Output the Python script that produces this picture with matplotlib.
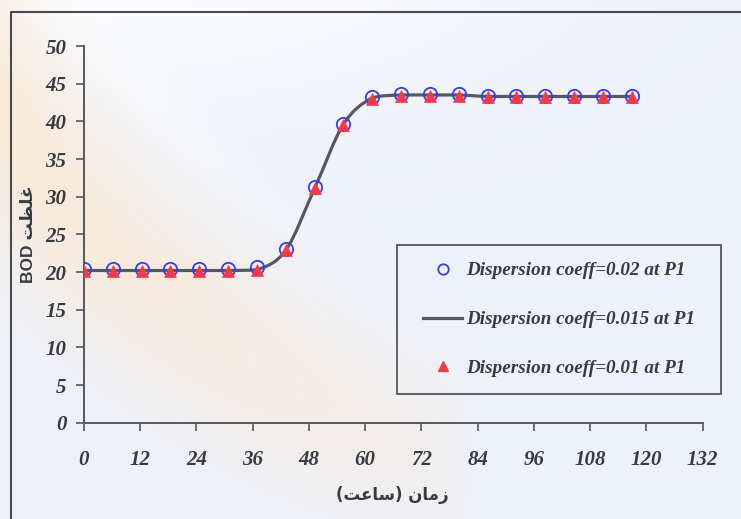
import matplotlib
matplotlib.use("Agg")
import numpy as np
import matplotlib.pyplot as plt
from matplotlib.path import Path
from matplotlib.patches import PathPatch, Rectangle
from matplotlib.lines import Line2D

# Time (hours) and BOD concentration at point P1 for three dispersion coefficients
hours = [0, 6.15, 12.3, 18.45, 24.6, 30.75, 36.9, 43.05, 49.2, 55.35,
         61.5, 67.65, 73.8, 79.95, 86.1, 92.25, 98.4, 104.55, 110.7, 116.85]
bod_d020 = [20.4, 20.4, 20.4, 20.4, 20.4, 20.4, 20.6, 23.1, 31.3, 39.7,
            43.2, 43.6, 43.6, 43.6, 43.3, 43.3, 43.3, 43.3, 43.3, 43.3]
bod_d015 = [20.2, 20.2, 20.2, 20.2, 20.2, 20.2, 20.3, 22.9, 31.1, 39.6,
            43.1, 43.5, 43.5, 43.5, 43.3, 43.3, 43.3, 43.3, 43.3, 43.3]
bod_d010 = [20.1, 20.1, 20.1, 20.1, 20.1, 20.1, 20.3, 22.9, 31.1, 39.5,
            43.0, 43.4, 43.4, 43.4, 43.2, 43.2, 43.2, 43.2, 43.2, 43.2]

labels = ["Dispersion coeff=0.02 at P1",
          "Dispersion coeff=0.015 at P1",
          "Dispersion coeff=0.01 at P1"]
x_ticks = [0, 12, 24, 36, 48, 60, 72, 84, 96, 108, 120, 132]
y_ticks = [0, 5, 10, 15, 20, 25, 30, 35, 40, 45, 50]

# Axis titles (Persian, pre-shaped presentation forms in visual order)
y_title = "BOD \uFE96\uFEC8\uFEE0\uFECF"                      # غلظت BOD
x_title = "(\uFE96\uFECB\uFE8E\uFEB3) \uFEE5\uFE8E\uFEE3\uFEAF"  # زمان (ساعت)

TXT = "#3a3a42"
AX = "#55575c"
serif_bi = dict(family="Liberation Serif", weight="bold", style="italic")

W, H = 741, 519
fig = plt.figure(figsize=(W / 100, H / 100), dpi=100)

# soft backdrop: pale lavender with a light glow and a faint peach arc
yy, xx = np.mgrid[0:H, 0:W].astype(float)
base = np.array([237, 241, 250], float) / 255
white = np.array([252, 253, 255], float) / 255
peach = np.array([250, 233, 212], float) / 255
img = np.ones((H, W, 3)) * base
glow = np.exp(-(((xx - 120) / 420) ** 2 + ((yy + 60) / 170) ** 2))
img = img * (1 - glow[..., None]) + white * glow[..., None]
dist = np.hypot(xx - 760, yy + 420)
band = 0.9 * np.exp(-((dist - 930) / 85) ** 2) * np.clip(1 - xx / 480, 0, 1) ** 0.5
img = img * (1 - band[..., None]) + peach * band[..., None]
wband = 0.6 * np.exp(-((dist - 800) / 30) ** 2) * np.clip(1 - xx / 520, 0, 1)
img = img * (1 - wband[..., None]) + white * wband[..., None]
bg = fig.add_axes([0, 0, 1, 1], zorder=-10)
bg.imshow(img, aspect="auto", interpolation="bilinear")
bg.set_axis_off()

ax = fig.add_axes([84 / W, 1 - 422.7 / H, 618.7 / W, 376.7 / H])
ax.set_facecolor("none")
ax.set_xlim(0, 132)
ax.set_ylim(0, 50)

# smoothed curve through the 0.015 series (cubic Bezier, shape-preserving tangents)
verts = [(hours[0], bod_d015[0])]
codes = [Path.MOVETO]
n = len(hours)
for i in range(n - 1):
    p0 = (hours[max(i - 1, 0)], bod_d015[max(i - 1, 0)])
    p1 = (hours[i], bod_d015[i])
    p2 = (hours[i + 1], bod_d015[i + 1])
    p3 = (hours[min(i + 2, n - 1)], bod_d015[min(i + 2, n - 1)])
    lo, hi = min(p1[1], p2[1]), max(p1[1], p2[1])
    c1 = (p1[0] + (p2[0] - p0[0]) / 6,
          min(max(p1[1] + (p2[1] - p0[1]) / 6, lo), hi))
    c2 = (p2[0] - (p3[0] - p1[0]) / 6,
          min(max(p2[1] - (p3[1] - p1[1]) / 6, lo), hi))
    verts += [c1, c2, p2]
    codes += [Path.CURVE4] * 3
ax.add_patch(PathPatch(Path(verts, codes), facecolor="none",
                       edgecolor="#55585e", linewidth=2.3, zorder=2,
                       capstyle="round", joinstyle="round"))

ax.plot(hours, bod_d020, linestyle="none", marker="o", markersize=9.6,
        markerfacecolor="none", markeredgecolor="#3a3af0",
        markeredgewidth=1.3, zorder=3)
ax.plot(hours, bod_d010, linestyle="none", marker="^", markersize=9.0,
        markerfacecolor="#f43a48", markeredgecolor="#f43a48",
        markeredgewidth=0.5, zorder=4)

for s in ("top", "right"):
    ax.spines[s].set_visible(False)
for s in ("left", "bottom"):
    ax.spines[s].set_color(AX)
    ax.spines[s].set_linewidth(1.4)

ax.set_xticks(x_ticks)
ax.set_yticks(y_ticks)
ax.tick_params(axis="both", direction="out", length=6, width=1.2, color=AX,
               labelcolor=TXT)
ax.tick_params(axis="x", pad=13.5)
ax.tick_params(axis="y", pad=6.5)
for lab in ax.get_xticklabels() + ax.get_yticklabels():
    lab.set_fontfamily("Liberation Serif")
    lab.set_fontweight("bold")
    lab.set_fontstyle("italic")
    lab.set_fontsize(15)

fig.text(0.038, 0.549, y_title, rotation=90, ha="center", va="center",
         family=["Liberation Sans", "DejaVu Sans"], weight="bold",
         fontsize=12.5, color=TXT)
fig.text(0.529, 0.046, x_title, ha="center", va="center",
         family=["DejaVu Sans"], weight="bold", fontsize=12, color=TXT)

handles = [
    Line2D([], [], linestyle="none", marker="o", markersize=7.5,
           markerfacecolor="none", markeredgecolor="#3a3af0",
           markeredgewidth=1.3),
    Line2D([], [], color="#55585e", linewidth=2.3),
    Line2D([], [], linestyle="none", marker="^", markersize=7.5,
           markerfacecolor="#f43a48", markeredgecolor="#f43a48"),
]
leg = fig.legend(handles, labels, loc="upper left",
                 bbox_to_anchor=(423 / W, 1 - 262 / H),
                 prop=dict(serif_bi, size=13.8), frameon=False,
                 borderpad=0, labelspacing=1.64,
                 handlelength=2.05, handletextpad=0.2, borderaxespad=0)
for t in leg.get_texts():
    t.set_color(TXT)

# legend frame
fig.add_artist(Rectangle((397 / W, 1 - 394 / H), 324 / W, 149 / H,
                         transform=fig.transFigure, facecolor="none",
                         edgecolor=AX, linewidth=1.3))

# chart-area frame (left and top edges)
fig.add_artist(Line2D([11 / W, 11 / W, 1.0], [0.0, 1 - 12 / H, 1 - 12 / H],
                      transform=fig.transFigure, color="#4a4a4e", linewidth=1.5))

fig.savefig("out.png", dpi=100)
